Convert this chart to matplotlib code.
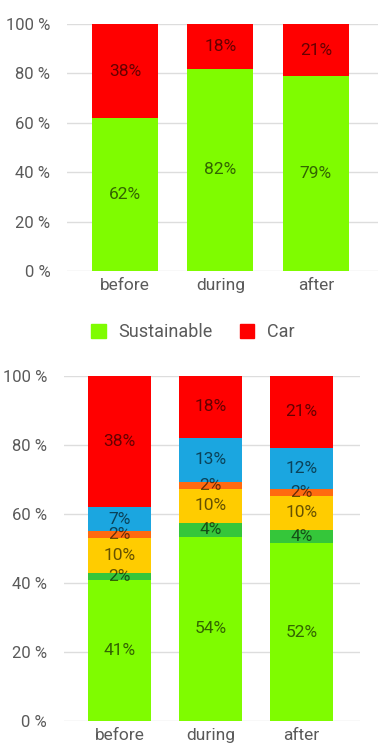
import matplotlib.pyplot as plt
from matplotlib.patches import Patch
import numpy as np

plt.rcParams['font.family'] = ['Roboto', 'DejaVu Sans']

periods = ['before', 'during', 'after']

# top chart: two groups
sustainable = [62, 82, 79]
car = [38, 18, 21]

# bottom chart: detailed modes (as labelled), stacked bottom to top
walk = [41, 54, 52]
bike = [2, 4, 4]
bus = [10, 10, 10]
moto = [2, 2, 2]
train = [7, 13, 12]
car2 = [38, 18, 21]

green = '#7ffc00'
red = '#ff0000'
detail_colors = [green, '#35c63a', '#ffcc00', '#ff6a10', '#1ba6e0', red]
tick_col = '#5a5a5a'
label_col = (0, 0, 0, 0.6)

fig = plt.figure(figsize=(3.92, 7.53), dpi=100)
ax1 = fig.add_axes([0.171, 0.640, 0.793, 0.328])
ax2 = fig.add_axes([0.163, 0.0425, 0.755, 0.458])

x = np.arange(len(periods))
width = 0.69


def style(ax, xlim):
    ax.set_ylim(0, 100)
    ax.set_xlim(*xlim)
    ax.set_yticks([0, 20, 40, 60, 80, 100])
    ax.set_yticklabels(['0 %', '20 %', '40 %', '60 %', '80 %', '100 %'])
    ax.set_xticks(x)
    ax.set_xticklabels(periods)
    ax.tick_params(length=0, colors=tick_col, labelsize=12.5)
    ax.tick_params(axis='y', pad=12, labelsize=12)
    ax.tick_params(axis='x', pad=5)
    for s in ax.spines.values():
        s.set_visible(False)
    ax.grid(axis='y', color='#dddddd', lw=1)
    ax.set_axisbelow(True)


# top chart
bottom = np.zeros(3)
for vals, col in [(sustainable, green), (car, red)]:
    v = np.array(vals, dtype=float)
    ax1.bar(x, v, width, bottom=bottom, color=col, zorder=2)
    for xi, b, h in zip(x, bottom, v):
        ax1.text(xi, b + h / 2, f'{int(h)}%', ha='center', va='center',
                 fontsize=12.5, color=label_col, zorder=3)
    bottom += v
style(ax1, (-0.607, 2.65))

# bottom chart, normalised to 100 %
series = [walk, bike, bus, moto, train, car2]
data = np.array(series, dtype=float)
totals = data.sum(axis=0)
bottom = np.zeros(3)
for vals, col in zip(data, detail_colors):
    h = vals / totals * 100
    ax2.bar(x, h, width, bottom=bottom, color=col, zorder=2)
    for xi, b, hh, lab in zip(x, bottom, h, vals):
        ax2.text(xi, b + hh / 2, f'{int(lab)}%', ha='center', va='center',
                 fontsize=12.5, color=label_col, zorder=3)
    bottom += h
style(ax2, (-0.61, 2.64))

handles = [Patch(color=green, label='Sustainable'), Patch(color=red, label='Car')]
leg = fig.legend(handles=handles, loc='center', bbox_to_anchor=(0.492, 0.559),
                 ncol=2, frameon=False, fontsize=13, handlelength=0.8,
                 handleheight=0.8, handletextpad=0.7, columnspacing=1.5)
for t in leg.get_texts():
    t.set_color(tick_col)

fig.savefig('out.png', dpi=100)
